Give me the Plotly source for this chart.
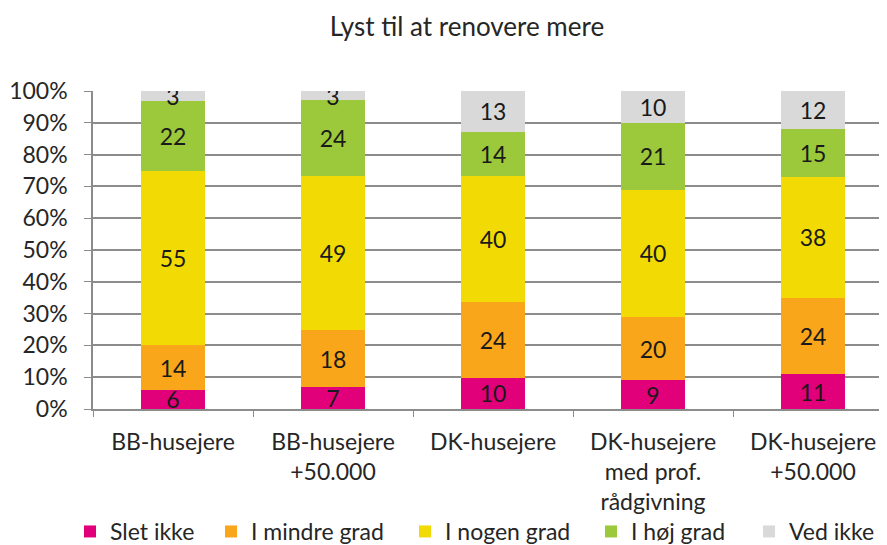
import plotly.graph_objects as go

categories = ["BB-husejere", "BB-husejere<br>+50.000", "DK-husejere",
              "DK-husejere<br>med prof.<br>rådgivning", "DK-husejere<br>+50.000"]
series_names = ["Slet ikke", "I mindre grad", "I nogen grad", "I høj grad", "Ved ikke"]
slet_ikke = [6, 7, 10, 9, 11]
i_mindre_grad = [14, 18, 24, 20, 24]
i_nogen_grad = [55, 49, 40, 40, 38]
i_hoej_grad = [22, 24, 14, 21, 15]
ved_ikke = [3, 3, 13, 10, 12]
y_ticks = [0, 10, 20, 30, 40, 50, 60, 70, 80, 90, 100]
y_tick_labels = [f"{v}%" for v in y_ticks]

colors = ["#E2007A", "#F9A61A", "#F2DA05", "#9BC93B", "#D9D9D9"]
series = [slet_ikke, i_mindre_grad, i_nogen_grad, i_hoej_grad, ved_ikke]

# page body has an 8px margin: figure sits at (8, 8)
OFF = 8
W, H = 887 - OFF, 545 - OFF
L = 93 - OFF
T = 91 - OFF
B = H - (409 - OFF)
PW = W - L
PH = H - T - B

# legend box left edges in screen pixels (layout only)
legend_left_px = [70, 211, 405, 591, 749]

FONT = "Lato"
FS = 23
fig = go.Figure()
legend_ids = ["legend", "legend2", "legend3", "legend4", "legend5"]
for name, vals, col, lid in zip(series_names, series, colors, legend_ids):
    fig.add_trace(go.Bar(
        x=categories, y=vals, name=name, marker_color=col, marker_line_width=0,
        text=[str(v) for v in vals], textposition="inside", insidetextanchor="middle",
        textangle=0, textfont=dict(family=FONT, size=FS, color="#1a1a1a"),
        width=0.4, legend=lid,
    ))

layout_legends = {}
for lid, px in zip(legend_ids, legend_left_px):
    layout_legends[lid] = dict(
        orientation="h", x=(px - OFF - L) / PW, xanchor="left",
        y=-(510 - 409) / PH, yanchor="top", bgcolor="rgba(0,0,0,0)",
        font=dict(family=FONT, size=FS, color="#262626"),
        itemwidth=30,
    )

fig.update_layout(
    barmode="stack", barnorm="percent",
    width=W, height=H,
    margin=dict(l=L, r=0, t=T, b=B, pad=0, autoexpand=False),
    plot_bgcolor="white", paper_bgcolor="white",
    font=dict(family=FONT, size=FS, color="#262626"),
    uniformtext=dict(minsize=FS, mode="show"),
    title=dict(text="Lyst til at renovere mere", x=(467 - OFF) / W, xanchor="center",
               y=1 - (27 - OFF) / H, yanchor="middle",
               font=dict(family=FONT, size=26, color="#262626")),
    showlegend=True,
    **layout_legends,
)
fig.update_xaxes(
    range=[-0.5, 4.4625], tickson="boundaries", ticks="outside", ticklen=6,
    tickcolor="#8c8c8c", showline=True, linecolor="#8c8c8c", linewidth=1.5,
    showgrid=False, ticklabelstandoff=12, automargin=False,
    tickfont=dict(family=FONT, size=FS, color="#262626"),
)
fig.update_yaxes(
    range=[0, 100], tickvals=y_ticks, ticktext=y_tick_labels,
    ticks="outside", ticklen=7, tickcolor="#8c8c8c",
    showline=True, linecolor="#8c8c8c", linewidth=1.5,
    showgrid=True, gridcolor="#8c8c8c", gridwidth=1.5, zeroline=False,
    ticklabelstandoff=12, automargin=False,
    tickfont=dict(family=FONT, size=FS, color="#262626"),
)
fig.write_html("out.html")
